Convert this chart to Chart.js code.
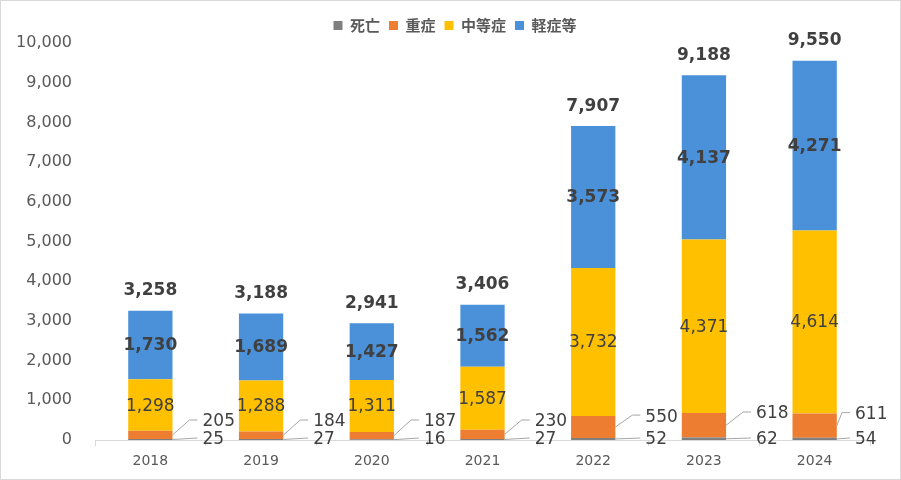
<!DOCTYPE html>
<html><head><meta charset="utf-8">
<script src="https://cdn.jsdelivr.net/npm/chart.js@4"></script>
<style>html,body{margin:0;padding:0;background:#fff}canvas{display:block}</style>
</head><body>
<canvas id="c" width="901" height="480"></canvas>
<script>
const categories = ['2018','2019','2020','2021','2022','2023','2024'];
const deaths   = [25, 27, 16, 27, 52, 62, 54];
const severe   = [205, 184, 187, 230, 550, 618, 611];
const moderate = [1298, 1288, 1311, 1587, 3732, 4371, 4614];
const mild     = [1730, 1689, 1427, 1562, 3573, 4137, 4271];
const seriesNames = ['死亡','重症','中等症','軽症等'];
const yTicks = [0,1000,2000,3000,4000,5000,6000,7000,8000,9000,10000];

const NUM = '"DejaVu Sans", Verdana, sans-serif';
const fmt = v => v.toLocaleString('en-US');

const labelPlugin = {
  id: 'labels',
  afterUpdate(chart) {
    // legend in the reference is centred right of the plot-area centre
    if (chart.legend) { chart.legend.left += 20; chart.legend.right += 20; }
  },
  afterDatasetsDraw(chart) {
    const ctx = chart.ctx;
    const y = chart.scales.y;
    const y0 = y.getPixelForValue(0);
    ctx.save();
    ctx.textBaseline = 'middle';
    const metas = [0,1,2,3].map(i => chart.getDatasetMeta(i));
    categories.forEach((c, i) => {
      const m = metas[2].data[i];
      ctx.fillStyle = '#404040';
      ctx.textAlign = 'center';
      ctx.font = '17px ' + NUM;
      ctx.fillText(fmt(moderate[i]), m.x, (m.y + m.base) / 2 + 1);
      const b = metas[3].data[i];
      ctx.font = 'bold 17px ' + NUM;
      ctx.fillText(fmt(mild[i]), b.x, (b.y + b.base) / 2 + 1);
      const total = deaths[i] + severe[i] + moderate[i] + mild[i];
      ctx.fillText(fmt(total), b.x, y.getPixelForValue(total) - 20);
      const s = metas[1].data[i];
      const right = s.x + s.width / 2;
      const lx = Math.min(right + 30, chart.width - 46);
      ctx.font = '17px ' + NUM;
      ctx.textAlign = 'left';
      ctx.strokeStyle = '#a6a6a6';
      ctx.lineWidth = 1;
      const sy = Math.min(s.y + 1, y0 - 18);
      ctx.beginPath();
      ctx.moveTo(right, (s.y + s.base) / 2);
      ctx.lineTo(lx - 13, sy - 2);
      ctx.lineTo(lx - 5, sy - 2);
      ctx.stroke();
      ctx.fillText(fmt(severe[i]), lx, sy);
      const d = metas[0].data[i];
      const dy = y0;
      ctx.beginPath();
      ctx.moveTo(right, (d.y + d.base) / 2);
      ctx.lineTo(lx - 5, dy - 2);
      ctx.stroke();
      ctx.fillText(fmt(deaths[i]), lx, dy);
    });
    ctx.restore();
  },
  afterDraw(chart) {
    const ctx = chart.ctx;
    ctx.save();
    ctx.strokeStyle = '#d9d9d9';
    ctx.lineWidth = 1;
    ctx.strokeRect(0.5, 0.5, chart.width - 1, chart.height - 1);
    ctx.restore();
  }
};

const colors = ['#7f7f7f', '#ed7d31', '#ffc000', '#4a91da'];
const seriesData = [deaths, severe, moderate, mild];

new Chart(document.getElementById('c'), {
  type: 'bar',
  data: {
    labels: categories,
    datasets: seriesNames.map((n, k) => ({
      label: n, data: seriesData[k], backgroundColor: colors[k],
      categoryPercentage: 1.0, barPercentage: 0.4, borderWidth: 0
    }))
  },
  options: {
    responsive: false, animation: false,
    layout: { padding: { top: 9, left: 0, right: 31, bottom: 0 } },
    plugins: {
      tooltip: { enabled: false },
      legend: {
        position: 'top',
        labels: {
          boxWidth: 9, boxHeight: 9, padding: 9, color: '#595959',
          font: { family: '"Noto Sans CJK JP", sans-serif', size: 15, weight: 'bold' }
        }
      }
    },
    scales: {
      x: {
        stacked: true,
        grid: { display: true, drawOnChartArea: false, tickLength: 6, color: '#d9d9d9', offset: true },
        border: { color: '#d9d9d9' },
        ticks: { color: '#595959', font: { family: NUM, size: 14 }, padding: 7 },
        afterFit(s) { s.height = 40; }
      },
      y: {
        stacked: true, min: 0, max: 10000,
        afterBuildTicks(s) { s.ticks = yTicks.map(v => ({ value: v })); },
        grid: { display: false, drawTicks: false },
        border: { display: false },
        ticks: { color: '#595959', font: { family: NUM, size: 16 }, padding: 23, callback: v => fmt(v) },
        afterFit(s) { s.width = 95; }
      }
    }
  },
  plugins: [labelPlugin]
});
</script>
</body></html>
